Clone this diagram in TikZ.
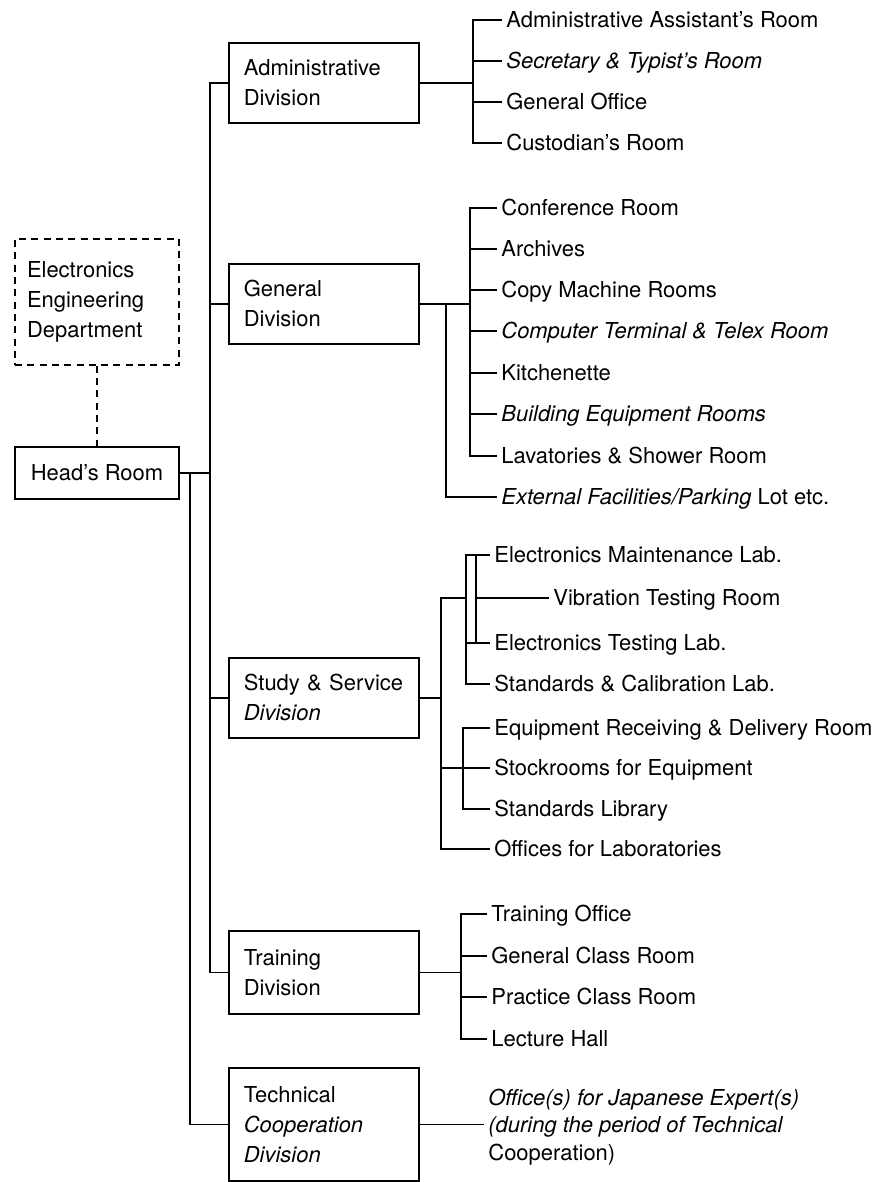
\documentclass[tikz,border=0pt]{standalone}
\usepackage{fontspec}
\setmainfont{TeX Gyre Heros}
\begin{document}
\begin{tikzpicture}[x=0.02cm,y=-0.02cm,line width=1pt,
	font=\fontsize{12.5}{17}\selectfont,
	divbox/.style={rectangle,draw,anchor=north west,text width=3.2cm,inner xsep=0.3cm,align=left,minimum height=1.6cm},
	room/.style={anchor=west,inner sep=2pt,text height=9pt,text depth=0pt}]
	\useasboundingbox (0,0) rectangle (894,1182);
	% left side
	\node (eed) at (97,302) [rectangle,draw,dash pattern=on 4pt off 3pt,text width=2.8cm,inner xsep=0.24cm,align=left,minimum height=2.52cm] {Electronics\\Engineering\\Department};
	\node (head) at (97,473) [rectangle,draw,minimum width=3.28cm,minimum height=1.04cm] {Head's Room};
	\draw [dash pattern=on 4pt off 3pt] (eed.south) -- (head.north);
	% divisions
	\node (adm) at (228,42) [divbox] {Administrative\\Division};
	\node (gen) at (228,263) [divbox] {General\\Division};
	\node (stu) at (228,657) [divbox] {Study \& Service\\\textit{Division}};
	\node (trn) at (228,930) [divbox,minimum height=1.66cm] {Training\\Division};
	\node (tec) at (228,1067) [divbox,minimum height=2.26cm] {Technical\\\textit{Cooperation}\\\textit{Division}};
	\coordinate (trk) at (210,473);
	\coordinate (trk2) at (190,473);
	\draw (head.east) -- (head.east -| trk);
	\draw (adm.west) -| (trk) |- (trn.west);
	\draw (trk |- gen.west) -- (gen.west);
	\draw (trk |- stu.west) -- (stu.west);
	\draw (trk2 |- head.east) |- (tec.west);
	% administrative
	\node (a1) at (502,20) [room] {Administrative Assistant's Room};
	\node (a2) at (502,61) [room] {\itshape Secretary \& Typist's Room};
	\node (a3) at (502,102) [room] {General Office};
	\node (a4) at (502,143) [room] {Custodian's Room};
	\coordinate (admj) at (473,82);
	\draw (adm.east) -- (adm.east -| admj);
	\draw (a1.west) -| (admj) |- (a4.west);
	\foreach \i in {a2,a3} \draw (admj |- \i.west) -- (\i.west);
	% general
	\node (g1) at (497,208) [room] {Conference Room};
	\node (g2) at (497,249) [room] {Archives};
	\node (g3) at (497,290) [room] {Copy Machine Rooms};
	\node (g4) at (497,331) [room] {\itshape Computer Terminal \& Telex Room};
	\node (g5) at (497,373) [room] {Kitchenette};
	\node (g6) at (497,414) [room] {\itshape Building Equipment Rooms};
	\node (g7) at (497,456) [room] {Lavatories \& Shower Room};
	\node (g8) at (497,497) [room] {\textit{External Facilities/Parking} Lot etc.};
	\coordinate (genj) at (470,303);
	\coordinate (genk) at (446,303);
	\draw (gen.east) -- (gen.east -| genj);
	\draw (g1.west) -| (genj) |- (g7.west);
	\foreach \i in {g2,g3,g4,g5,g6} \draw (genj |- \i.west) -- (\i.west);
	\draw (genk |- gen.east) |- (g8.west);
	% study and service
	\node (s1) at (490,555) [room] {Electronics Maintenance Lab.};
	\node (s2) at (549,598) [room] {Vibration Testing Room};
	\node (s3) at (490,643) [room] {Electronics Testing Lab.};
	\node (s4) at (490,684) [room] {Standards \& Calibration Lab.};
	\node (s5) at (490,728) [room] {Equipment Receiving \& Delivery Room};
	\node (s6) at (490,768) [room] {Stockrooms for Equipment};
	\node (s7) at (490,809) [room] {Standards Library};
	\node (s8) at (490,849) [room] {Offices for Laboratories};
	\coordinate (stuj) at (441,697);
	\coordinate (elj) at (466,598);
	\coordinate (vibj) at (476,598);
	\coordinate (eqj) at (463,768);
	\draw (stu.east) -- (stu.east -| stuj);
	\draw (elj) -| (stuj) |- (s8.west);
	\draw (s1.west) -| (elj) |- (s4.west);
	\draw (elj |- s3.west) -- (s3.west);
	\draw (vibj |- s1.west) -- (vibj |- s3.west);
	\draw (vibj) -- (s2.west);
	\draw (s5.west) -| (eqj) |- (s7.west);
	\draw (stuj |- s6.west) -- (s6.west);
	% training
	\node (t1) at (487,914) [room] {Training Office};
	\node (t2) at (487,956) [room] {General Class Room};
	\node (t3) at (487,997) [room] {Practice Class Room};
	\node (t4) at (487,1039) [room] {Lecture Hall};
	\coordinate (trnj) at (461,971);
	\draw (trn.east) -- (trn.east -| trnj);
	\draw (t1.west) -| (trnj) |- (t4.west);
	\foreach \i in {t2,t3} \draw (trnj |- \i.west) -- (\i.west);
	% technical cooperation
	\node (jexp) at (484,1127) [anchor=west,inner sep=2pt,align=left,font=\fontsize{12.5}{15.5}\selectfont] {\itshape Office(s) for Japanese Expert(s)\\\itshape (during the period of Technical\\Cooperation)};
	\draw (tec.east) -- (tec.east -| jexp.west);
\end{tikzpicture}
\end{document}
